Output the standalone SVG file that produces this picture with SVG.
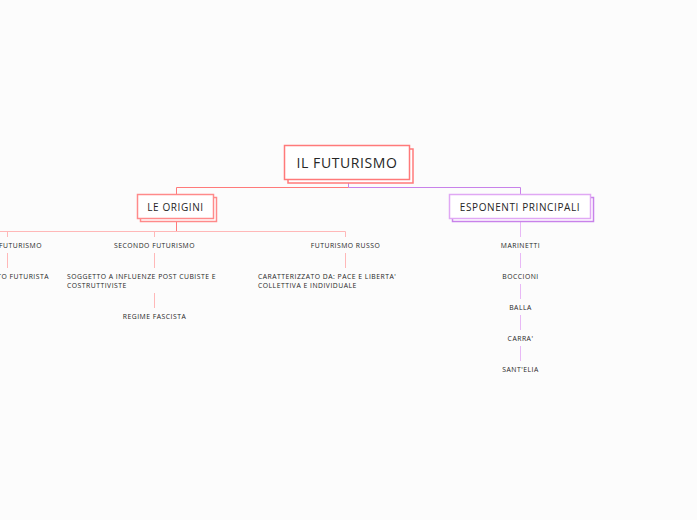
<svg xmlns="http://www.w3.org/2000/svg" width="697" height="520" viewBox="0 0 697 520">
<style>
text{font-family:"Open Sans","Noto Sans","Liberation Sans",sans-serif;fill:#262626;}
.t0{font-size:14px;letter-spacing:0.6px;text-anchor:middle;}
.t1{font-size:10px;letter-spacing:0.6px;text-anchor:middle;}
.t2{font-size:6.8px;letter-spacing:0.5px;text-anchor:middle;}
.t2l{font-size:6.8px;letter-spacing:0.5px;}
.t2e{font-size:6.8px;letter-spacing:0.5px;text-anchor:end;}
.c{fill:none;stroke-width:1;}
.red{stroke:#ff7a7a;}
.pink{stroke:#ffb8b8;}
.pur{stroke:#c882ea;}
.lpur{stroke:#e8b8f6;}
</style>
<rect width="697" height="520" fill="#fcfcfc"/>
<g id="connectors">
  <path class="c pur" d="M348.5 182.5 V187.5 H520.5 V195"/>
  <path class="c red" d="M348.5 187.5 H176.5 V194.5"/>
  <path class="c red" d="M176.5 221 V231.5"/>
  <path class="c pink" d="M0 231.5 H345.5 M7.5 231.5 V237 M154.5 231.5 V237 M345.5 231.5 V237"/>
  <path class="c pink" d="M7.5 253 V268 M154.5 253 V268 M345.5 253 V268 M154.5 293 V308"/>
  <path class="c lpur" d="M520.5 221 V237 M520.5 253 V268 M520.5 284 V299 M520.5 315 V330 M520.5 346 V361"/>
</g>
<g id="root">
  <rect x="288" y="149" width="125" height="34" fill="#fff" stroke="#ff7a7a" stroke-width="1.5"/>
  <rect x="284.5" y="145.5" width="125" height="34" fill="#fff" stroke="#ff7a7a" stroke-width="1.5"/>
  <text class="t0" x="347" y="168">IL FUTURISMO</text>
</g>
<g id="le-origini">
  <rect x="140.5" y="197.5" width="76" height="24" fill="#fff" stroke="#ff8a8a" stroke-width="1.5"/>
  <rect x="137.5" y="194.5" width="76" height="24" fill="#fff" stroke="#ff8a8a" stroke-width="1.5"/>
  <text class="t1" x="175.5" y="210.5">LE ORIGINI</text>
</g>
<g id="esponenti">
  <rect x="452.5" y="197.5" width="141" height="24" fill="#fff" stroke="#c882ea" stroke-width="1.5"/>
  <rect x="449.5" y="194.5" width="141" height="24" fill="#fff" stroke="#e0a8f4" stroke-width="1.5"/>
  <text class="t1" x="520" y="210.5">ESPONENTI PRINCIPALI</text>
</g>
<g id="primo-futurismo"><text class="t2e" x="42" y="247.5">FUTURISMO</text></g>
<g id="manifesto"><text class="t2e" x="49" y="278.5">TO FUTURISTA</text></g>
<g id="secondo-futurismo"><text class="t2" x="154.5" y="247.5">SECONDO FUTURISMO</text></g>
<g id="soggetto"><text class="t2l" x="67" y="278.5">SOGGETTO A INFLUENZE POST CUBISTE E</text><text class="t2l" x="67" y="288">COSTRUTTIVISTE</text></g>
<g id="regime"><text class="t2" x="154.5" y="318.5">REGIME FASCISTA</text></g>
<g id="futurismo-russo"><text class="t2" x="345.5" y="247.5">FUTURISMO RUSSO</text></g>
<g id="caratterizzato"><text class="t2l" x="258" y="278.5">CARATTERIZZATO DA: PACE E LIBERTA'</text><text class="t2l" x="258" y="288">COLLETTIVA E INDIVIDUALE</text></g>
<g id="marinetti"><text class="t2" x="520.5" y="247.5">MARINETTI</text></g>
<g id="boccioni"><text class="t2" x="520.5" y="278.5">BOCCIONI</text></g>
<g id="balla"><text class="t2" x="520.5" y="309.5">BALLA</text></g>
<g id="carra"><text class="t2" x="520.5" y="340.5">CARRA'</text></g>
<g id="santelia"><text class="t2" x="520.5" y="371.5">SANT'ELIA</text></g>
</svg>
